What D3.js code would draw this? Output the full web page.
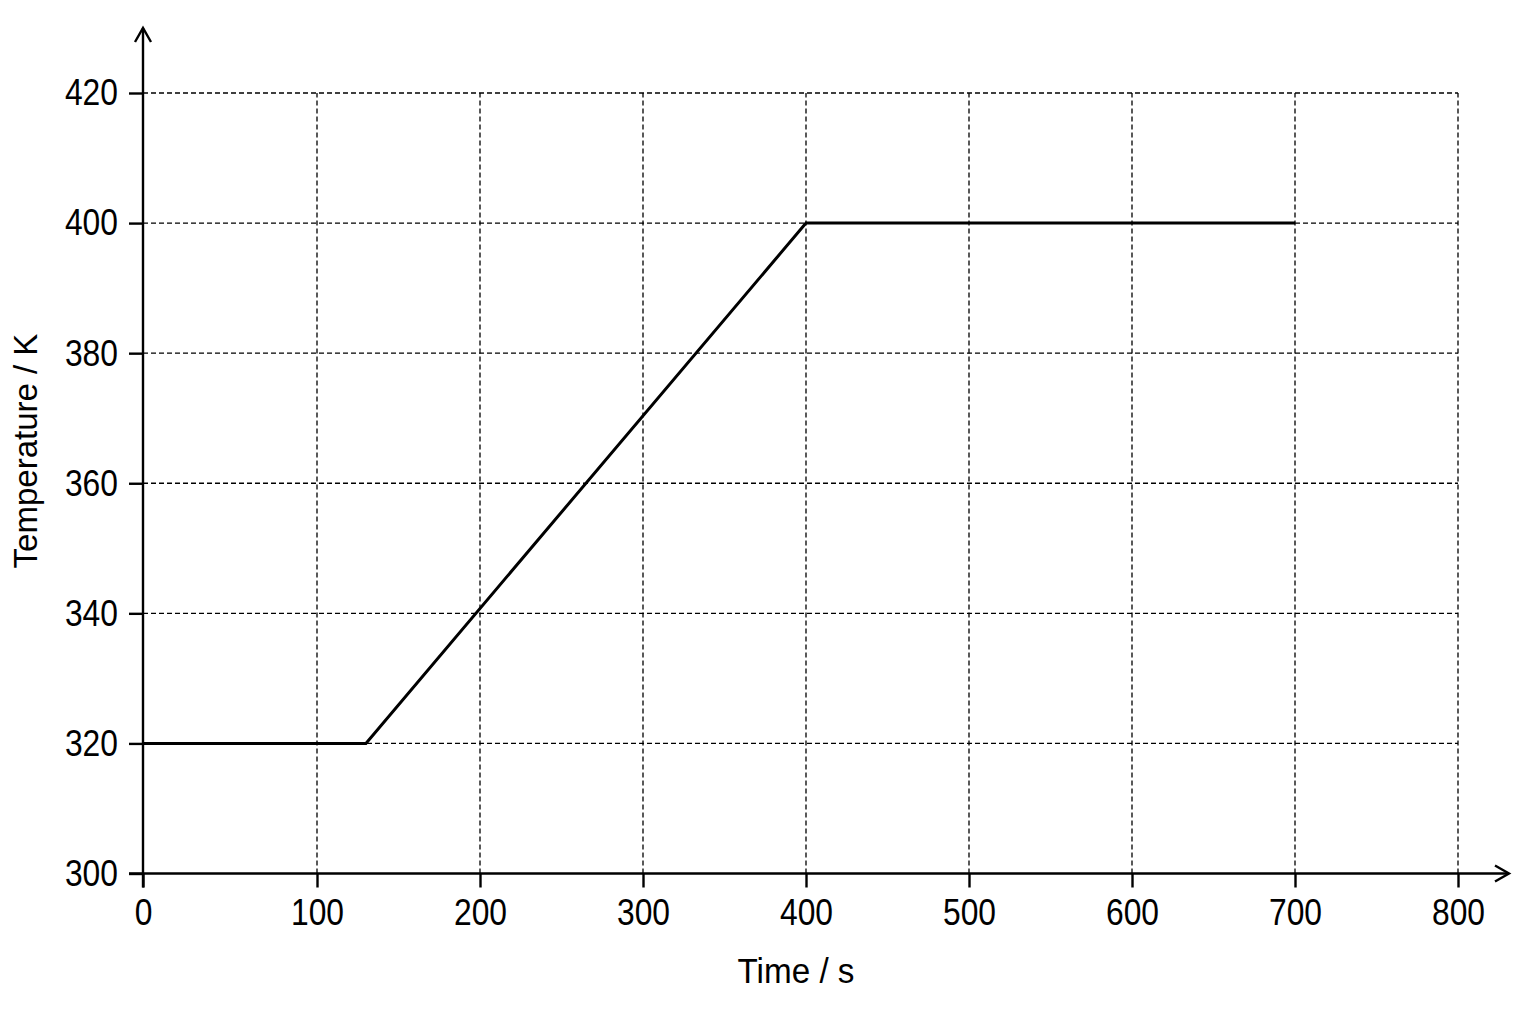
<!DOCTYPE html>
<html>
<head>
<meta charset="utf-8">
<script src="https://cdn.jsdelivr.net/npm/d3@7"></script>
<style>
  body { margin: 0; background: #fff; }
  text { font-family: "Liberation Sans", Arial, sans-serif; fill: #000; }
  .grid line { stroke: #000; stroke-width: 1.3; stroke-dasharray: 5,3; }
  .axis line { stroke: #000; stroke-width: 2.4; }
</style>
</head>
<body>
<svg id="viz" width="1536" height="1024"></svg>
<script>
var times = [0, 130, 400, 700];      // s
var temps = [320, 320, 400, 400];    // K
var xTicks = [0, 100, 200, 300, 400, 500, 600, 700, 800];
var yTicks = [300, 320, 340, 360, 380, 400, 420];

var svg = d3.select("#viz");

// the original drawing has a slightly wider first interval, so piecewise
var xScale = d3.scaleLinear()
               .domain([0, 100, 800])
               .range([143, 317, 1458]);
var yScale = d3.scaleLinear()
               .domain([300, 420])
               .range([873.5, 93]);

// dashed grid
var grid = svg.append("g").attr("class", "grid");
grid.selectAll(".h")
  .data(yTicks.slice(1))
  .enter().append("line")
  .attr("x1", xScale(0)).attr("x2", xScale(800))
  .attr("y1", d => yScale(d)).attr("y2", d => yScale(d));
grid.selectAll(".v")
  .data(xTicks.slice(1))
  .enter().append("line")
  .attr("x1", d => xScale(d)).attr("x2", d => xScale(d))
  .attr("y1", yScale(300)).attr("y2", yScale(420));

// axes (ticks + labels), domain path drawn separately with arrows
var xAxis = svg.append("g")
  .attr("class", "axis")
  .attr("transform", "translate(0," + yScale(300) + ")")
  .call(d3.axisBottom(xScale).tickValues(xTicks).tickSize(14).tickPadding(11));
var yAxis = svg.append("g")
  .attr("class", "axis")
  .attr("transform", "translate(" + xScale(0) + ",0)")
  .call(d3.axisLeft(yScale).tickValues(yTicks).tickSize(14).tickPadding(11));

svg.selectAll(".axis .domain").remove();
svg.selectAll(".axis text")
  .attr("font-size", 37)
  .style("font-family", "'Liberation Sans', Arial, sans-serif");
xAxis.selectAll("text").attr("transform", "scale(0.86,1)");
yAxis.selectAll("text").attr("x", -25 / 0.86).attr("transform", "scale(0.86,1)");

var x0 = xScale(0), y0 = yScale(300);
var axisG = svg.append("g").attr("fill", "none").attr("stroke", "#000").attr("stroke-width", 2.4);
// y axis with arrow
axisG.append("line").attr("x1", x0).attr("x2", x0).attr("y1", y0 + 14).attr("y2", 28);
axisG.append("path").attr("d", "M" + (x0 - 8) + "," + 42 + "L" + x0 + "," + 28 + "L" + (x0 + 8) + "," + 42);
// x axis with arrow
axisG.append("line").attr("x1", x0 - 14).attr("x2", 1509).attr("y1", y0).attr("y2", y0);
axisG.append("path").attr("d", "M" + 1495 + "," + (y0 - 8) + "L" + 1509 + "," + y0 + "L" + 1495 + "," + (y0 + 8));

// data line
var line = d3.line()
             .x((d, i) => xScale(times[i]))
             .y(d => yScale(d));
svg.append("path")
  .datum(temps)
  .attr("fill", "none")
  .attr("stroke", "#000")
  .attr("stroke-width", 3)
  .attr("stroke-linejoin", "miter")
  .attr("d", line);

// axis titles
svg.append("text")
  .attr("x", 796).attr("y", 983)
  .attr("text-anchor", "middle")
  .attr("font-size", 35)
  .attr("transform", "translate(796,0) scale(0.95,1) translate(-796,0)")
  .text("Time / s");
svg.append("text")
  .attr("transform", "translate(37,451) rotate(-90)")
  .attr("text-anchor", "middle")
  .attr("font-size", 33)
  .text("Temperature / K");
</script>
</body>
</html>
